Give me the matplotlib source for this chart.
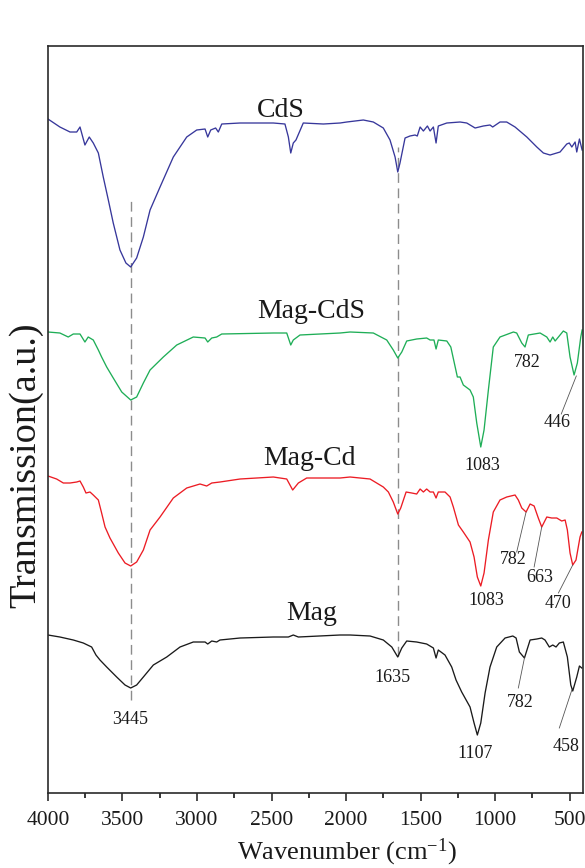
import matplotlib
matplotlib.use("Agg")
import matplotlib.pyplot as plt

plt.rcParams['font.family'] = ['Liberation Serif', 'DejaVu Serif']
plt.rcParams['mathtext.fontset'] = 'custom'
plt.rcParams['mathtext.rm'] = 'Liberation Serif'
plt.rcParams['mathtext.it'] = 'Liberation Serif:italic'

# spectra: wavenumber (cm-1) and stacked transmission (a.u.)
cds_wn = [4000, 3920, 3852, 3807, 3785, 3752, 3723, 3696, 3662, 3629, 3595, 3562, 3517, 3477,
          3445, 3405, 3360, 3315, 3248, 3159, 3069, 3002, 2946, 2928, 2908, 2875, 2857, 2834,
          2711, 2488, 2410, 2387, 2371, 2354, 2336, 2287, 2152, 2040, 1995, 1884, 1817, 1750,
          1705, 1671, 1653, 1638, 1604, 1571, 1537, 1522, 1503, 1481, 1454, 1436, 1414, 1396,
          1381, 1324, 1235, 1190, 1134, 1079, 1034, 1016, 967, 922, 866, 787, 720, 676, 631,
          564, 519, 502, 485, 463, 452, 434, 416]
cds_t = [681, 673, 668, 668, 673, 655, 663, 657, 647, 623, 600, 577, 550, 537,
         533, 542, 563, 590, 613, 643, 663, 670, 671, 663, 670, 672, 668, 676,
         677, 677, 676, 663, 647, 657, 660, 677, 676, 677, 678, 680, 678, 672,
         660, 643, 628, 637, 662, 664, 665, 664, 673, 669, 674, 669, 673, 657,
         674, 677, 678, 677, 672, 674, 675, 673, 678, 678, 673, 663, 653, 647, 645,
         648, 656, 657, 653, 658, 648, 661, 650]

magcds_wn = [4000, 3920, 3864, 3830, 3785, 3752, 3730, 3696, 3662, 3640, 3606, 3562, 3505,
             3445, 3405, 3360, 3315, 3226, 3136, 3025, 2946, 2928, 2901, 2868, 2834, 2488,
             2398, 2371, 2354, 2309, 2040, 1973, 1817, 1727, 1683, 1653, 1626, 1593, 1526,
             1459, 1436, 1410, 1396, 1381, 1324, 1297, 1275, 1253, 1235, 1213, 1168, 1146,
             1123, 1096, 1074, 1045, 1012, 967, 877, 855, 821, 799, 777, 698, 653, 631, 613,
             597, 575, 542, 519, 497, 470, 448, 425, 416]
magcds_t = [468, 467, 463, 466, 466, 458, 463, 460, 450, 443, 433, 422, 408,
            400, 403, 417, 430, 443, 455, 463, 462, 458, 462, 463, 466, 467,
            467, 455, 460, 465, 467, 468, 467, 460, 450, 442, 448, 459, 461,
            462, 460, 460, 451, 460, 459, 453, 438, 423, 423, 415, 410, 403,
            377, 353, 370, 410, 453, 463, 468, 467, 457, 453, 465, 467, 463, 458, 463,
            459, 463, 469, 467, 443, 425, 437, 463, 470]

magcd_wn = [4000, 3942, 3897, 3852, 3807, 3785, 3763, 3745, 3718, 3696, 3662, 3640, 3617,
            3584, 3528, 3483, 3445, 3405, 3360, 3315, 3248, 3159, 3069, 2980, 2935, 2901,
            2846, 2711, 2488, 2398, 2358, 2320, 2264, 2040, 1973, 1839, 1750, 1716, 1683,
            1653, 1633, 1597, 1559, 1526, 1503, 1481, 1459, 1436, 1414, 1396, 1381, 1336,
            1302, 1280, 1246, 1213, 1168, 1141, 1119, 1096, 1074, 1045, 1012, 967, 922, 866,
            844, 821, 792, 765, 738, 710, 687, 653, 620, 586, 553, 530, 515, 497, 479, 457,
            430, 418]
magcd_t = [324, 321, 317, 317, 318, 319, 313, 307, 308, 305, 300, 287, 273,
           262, 247, 237, 234, 238, 250, 270, 283, 302, 312, 316, 314, 317,
           318, 321, 323, 321, 310, 317, 322, 322, 323, 321, 313, 308, 298,
           286, 292, 308, 307, 306, 311, 308, 311, 308, 308, 302, 308, 308,
           303, 293, 275, 268, 258, 243, 223, 214, 227, 260, 288, 300, 303, 305,
           300, 292, 288, 296, 294, 282, 273, 283, 282, 282, 279, 280, 270, 247, 235, 240,
           263, 268]

mag_wn = [4000, 3920, 3830, 3763, 3707, 3678, 3651, 3606, 3539, 3483, 3445, 3405, 3360,
          3293, 3203, 3114, 3025, 2946, 2928, 2901, 2868, 2846, 2711, 2488, 2387, 2354,
          2320, 2040, 1973, 1839, 1750, 1693, 1653, 1626, 1593, 1526, 1459, 1414, 1396,
          1381, 1336, 1291, 1262, 1224, 1168, 1141, 1119, 1096, 1067, 1034, 989, 933, 881,
          859, 837, 803, 765, 720, 687, 665, 636, 613, 591, 569, 542, 515, 492, 479, 452,
          434, 418]
mag_t = [165, 163, 160, 157, 153, 145, 140, 133, 123, 115, 112, 115, 123,
         135, 143, 153, 158, 158, 156, 159, 158, 160, 162, 163, 163, 165,
         163, 165, 165, 164, 160, 153, 143, 152, 159, 158, 156, 152, 142,
         150, 145, 133, 120, 108, 93, 77, 65, 77, 107, 133, 153, 162, 164,
         162, 148, 142, 160, 161, 162, 160, 153, 155, 153, 157, 158, 143, 115, 109, 123,
         134, 132]

# sample names: (text, x, y)
names = [("CdS", 2436, 683), ("Mag-CdS", 2232, 482), ("Mag-Cd", 2248, 335), ("Mag", 2228, 180)]
# peak labels: (text, x, y)
peaks = [("782", 784, 433), ("446", 585, 373), ("1083", 1088, 330),
         ("782", 881, 236), ("663", 698, 218), ("470", 579, 192), ("1083", 1056, 195),
         ("3445", 3450, 76), ("1635", 1689, 118), ("782", 832, 93), ("458", 524, 49),
         ("1107", 1134, 42)]
# leader lines: (x0, y0, x1, y1)
leaders = [(455, 424, 556, 386),
           (792, 288, 855, 248), (687, 273, 738, 233), (479, 235, 575, 207),
           (803, 142, 844, 112), (485, 110, 569, 72)]
# dashed guides: (x, ybottom, ytop)
guides = [(3445, 100, 602), (1653, 144, 653)]

fig = plt.figure(figsize=(5.85, 8.68), dpi=100)
ax = fig.add_axes([0.082, 0.0864, 0.9146, 0.8606])

for x, y0, y1 in guides:
    ax.plot([x, x], [y0, y1], color='#8c8c8c', lw=1.0, dashes=(7, 4), zorder=1)

ax.plot(cds_wn, cds_t, color='#37379b', lw=0.95, zorder=2)
ax.plot(magcds_wn, magcds_t, color='#1fae57', lw=0.95, zorder=2)
ax.plot(magcd_wn, magcd_t, color='#ec1c24', lw=0.95, zorder=2)
ax.plot(mag_wn, mag_t, color='#1a1a1a', lw=0.95, zorder=2)

for x0, y0, x1, y1 in leaders:
    ax.plot([x0, x1], [y0, y1], color='#555555', lw=0.6, zorder=2)

for txt, x, y in names:
    ax.text(x, y, txt, fontsize=20, ha='center', va='baseline', color='#1a1a1a')
for txt, x, y in peaks:
    ax.text(x, y, txt, fontsize=13, ha='center', va='baseline', color='#1a1a1a')

ax.set_xlim(4000, 410)
ax.set_ylim(7, 754)
ax.set_xticks([4000, 3500, 3000, 2500, 2000, 1500, 1000, 500])
ax.set_xticks([3750, 3250, 2750, 2250, 1750, 1250, 750], minor=True)
ax.set_yticks([])
ax.tick_params(axis='x', which='major', direction='out', length=6, width=1.1,
               labelsize=15.5, pad=7, colors='#1a1a1a')
ax.tick_params(axis='x', which='minor', direction='out', length=3.5, width=1.1)
for s in ax.spines.values():
    s.set_linewidth(1.2)
    s.set_color('#2a2a2a')

ax.set_xlabel(r'Wavenumber (cm$^{\mathrm{-1}}$)', fontsize=19, color='#1a1a1a')
ax.xaxis.set_label_coords(0.559, -0.059)
ax.set_ylabel('Transmission(a.u.)', fontsize=27.5, color='#1a1a1a')
ax.yaxis.set_label_coords(-0.008, 0.439)

fig.savefig('out.png', dpi=100)
